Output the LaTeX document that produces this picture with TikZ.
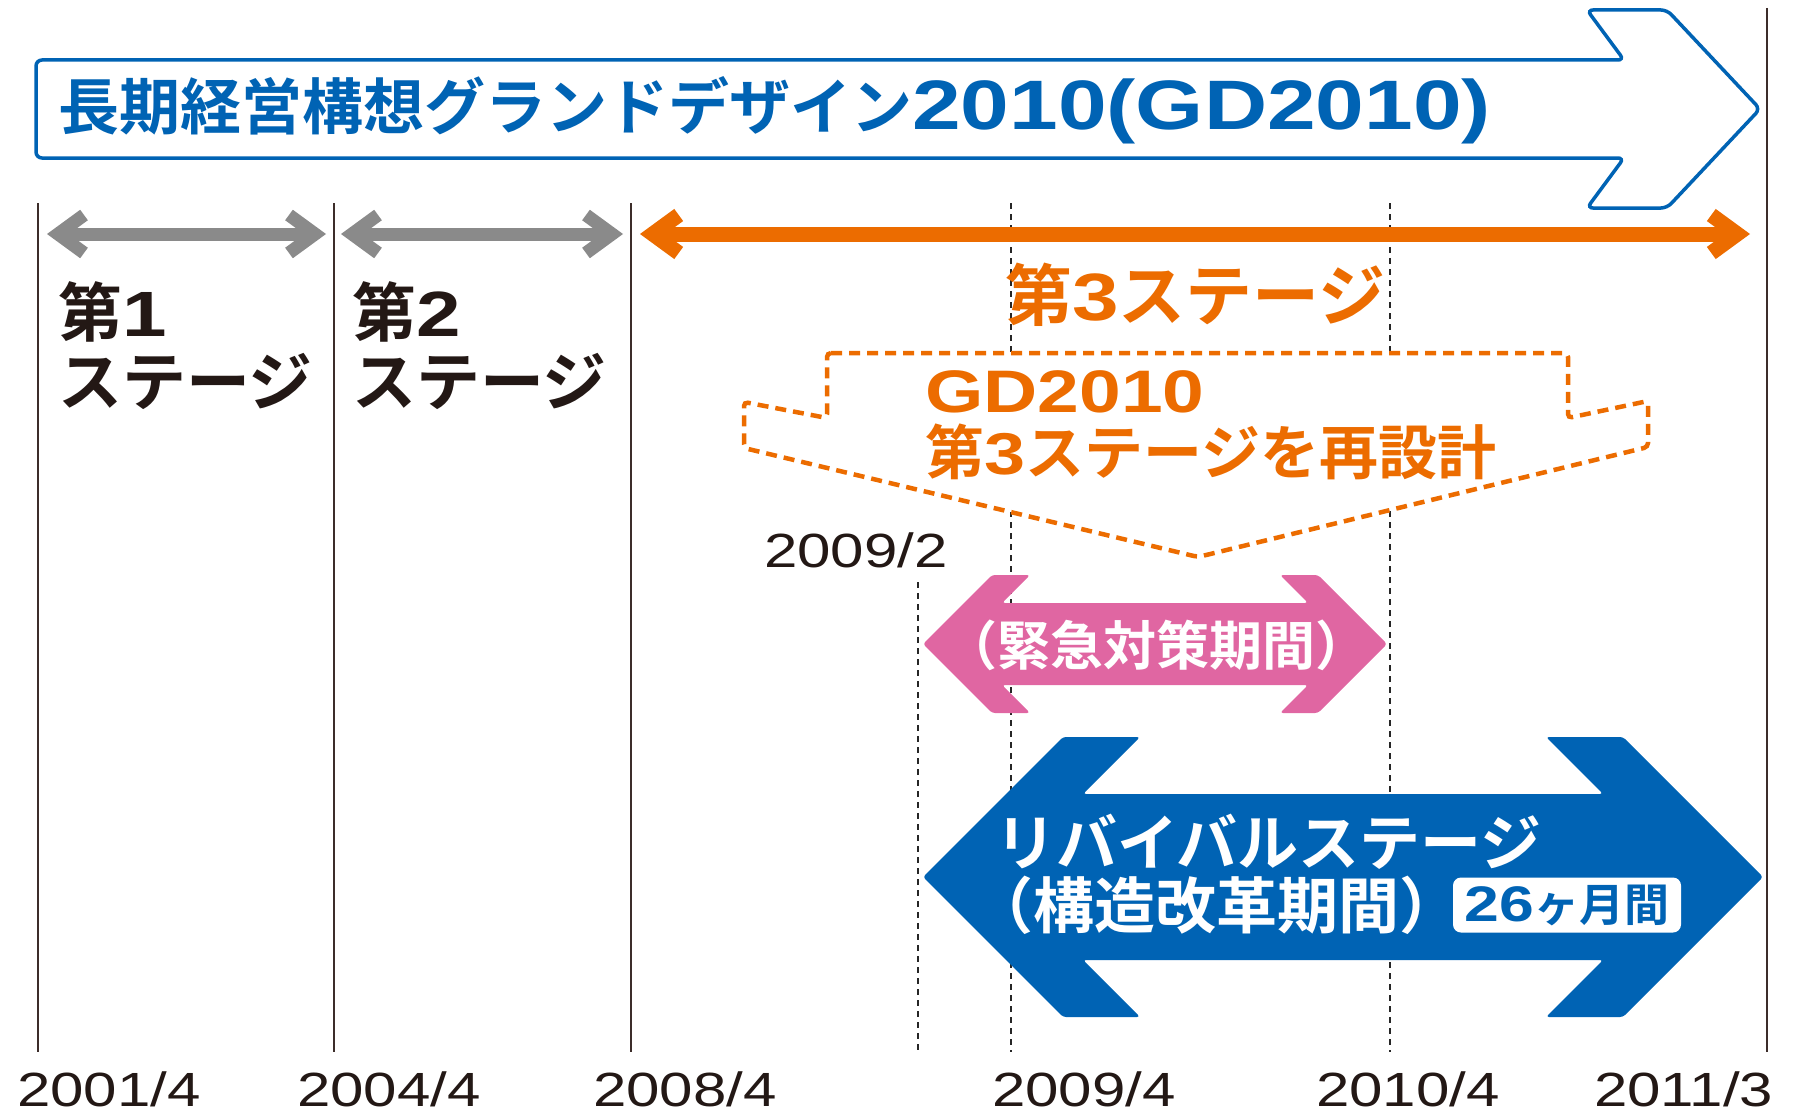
\documentclass[tikz,border=0pt]{standalone}
\usepackage{fontspec}
\setmainfont{Liberation Sans}
\newfontfamily\jpfont{Noto Sans CJK JP}[BoldFont={Noto Sans CJK JP Bold}]
\newfontfamily\numfont{Liberation Sans}[FakeStretch=1.25]
\newcommand\jpb[1]{{\jpfont\bfseries #1}}
\newcommand\numb[1]{{\numfont\bfseries #1}}
\usetikzlibrary{
	positioning,
	arrows.meta,
	calc
}
\definecolor{gdblue}{RGB}{0,99,180}
\definecolor{stageorange}{RGB}{236,108,0}
\definecolor{stagegray}{RGB}{138,138,138}
\definecolor{emgpink}{RGB}{224,102,162}
\definecolor{axisline}{RGB}{60,45,42}
\definecolor{inkblack}{RGB}{35,24,21}

\begin{document}
\begin{tikzpicture}[x=1pt,y=-1pt,
	timeline/.style={draw=axisline,line width=2.4pt},
	guide/.style={draw=black!85,line width=1.6pt,dash pattern=on 6pt off 5pt},
	stagearrow/.style={line width=13pt,{Straight Barb[length=26pt,width=38pt]}-{Straight Barb[length=26pt,width=38pt]}},
	stagelabel/.style={anchor=west,inner sep=0pt,text=inkblack,font=\fontsize{64}{66}\selectfont},
	yearlabel/.style={anchor=west,inner sep=0pt,text=inkblack,font=\numfont\fontsize{48}{50}\selectfont},
	bigarrow/.style={rounded corners=3pt,draw=none}
]
	\useasboundingbox (0,0) rectangle (1805,1116);

	\coordinate (y2001) at (38,203);
	\coordinate (y2004) at (334,203);
	\coordinate (y2008) at (631,203);
	\coordinate (y2011) at (1767,8);
	\coordinate (y2001_ground) at (38,1052);
	\coordinate (y2004_ground) at (334,1052);
	\coordinate (y2008_ground) at (631,1052);
	\coordinate (y2011_ground) at (1767,1052);
	\coordinate (m0902) at (918,582);
	\coordinate (m0904) at (1011,203);
	\coordinate (m1004) at (1390,203);
	\coordinate (m0902_ground) at (918,1052);
	\coordinate (m0904_ground) at (1011,1052);
	\coordinate (m1004_ground) at (1390,1052);

	\draw[timeline] (y2001) -- (y2001_ground);
	\draw[timeline] (y2004) -- (y2004_ground);
	\draw[timeline] (y2008) -- (y2008_ground);
	\draw[timeline] (y2011) -- (y2011_ground);
	\draw[guide] (m0902) -- (m0902_ground);
	\draw[guide] (m0904) -- (m0904_ground);
	\draw[guide] (m1004) -- (m1004_ground);

	\draw[draw=gdblue,fill=white,line width=3.5pt,rounded corners=6pt]
		(36,60) -- (1624,60) -- (1587,10) -- (1667,10) -- (1760,109) -- (1667,208)
		-- (1587,208) -- (1624,158) -- (36,158) -- cycle;
	\node[anchor=west,inner sep=0pt,text=gdblue] (title) at (58,110)
		{\fontsize{61}{64}\selectfont\jpb{長期経営構想グランドデザイン}\fontsize{70}{72}\selectfont\numb{2010(GD2010)}};

	\coordinate (s1_left) at (47,234);
	\coordinate (s1_right) at (326,234);
	\coordinate (s2_left) at (341,234);
	\coordinate (s2_right) at (623,234);
	\coordinate (s3_left) at (640,234);
	\coordinate (s3_right) at (1750,234);
	\draw[stagearrow,stagegray] (s1_left) -- (s1_right);
	\draw[stagearrow,stagegray] (s2_left) -- (s2_right);
	\draw[stagearrow,stageorange,line width=15pt] (s3_left) -- (s3_right);

	\node[stagelabel] (stage1a) at (58,312) {\jpb{第}\numb{1}};
	\node[stagelabel,below=11pt of stage1a.south west,anchor=north west] (stage1b) {\jpb{ステージ}};
	\node[stagelabel] (stage2a) at (352,312) {\jpb{第}\numb{2}};
	\node[stagelabel,below=11pt of stage2a.south west,anchor=north west] (stage2b) {\jpb{ステージ}};
	\node[stagelabel,text=stageorange,font=\fontsize{67}{68}\selectfont] (stage3) at (1005,295) {\jpb{第}\numb{3}\jpb{ステージ}};

	\draw[draw=stageorange,fill=white,line width=4.5pt,dash pattern=on 11pt off 7pt,rounded corners=4pt]
		(827,353) -- (1568,353) -- (1568,418) -- (1648,401) -- (1648,447) -- (1198,557)
		-- (744,448) -- (744,402) -- (827,418) -- cycle;
	\node[anchor=west,inner sep=0pt,text=stageorange,font=\fontsize{60}{62}\selectfont] (gd) at (925,392) {\numb{GD2010}};
	\node[anchor=west,inner sep=0pt,text=stageorange,font=\fontsize{59}{61}\selectfont] (redesign) at (925,452) {\jpb{第}\numb{3}\jpb{ステージを再設計}};

	\node[yearlabel] (feb09) at (764,550) {2009/2};

	\fill[bigarrow,emgpink]
		(923,644) -- (992,575) -- (1030,575) -- (1002,603) -- (1308,603) -- (1280,575) -- (1318,575)
		-- (1387,644) -- (1318,713) -- (1280,713) -- (1308,685) -- (1002,685) -- (1030,713) -- (992,713) -- cycle;
	\node[inner sep=0pt,text=white,font=\fontsize{53}{55}\selectfont] (emg) at (1156,645) {\jpb{（緊急対策期間）}};

	\fill[bigarrow,gdblue]
		(923,877) -- (1063,737) -- (1140,737) -- (1083,794) -- (1603,794) -- (1546,737) -- (1623,737)
		-- (1763,877) -- (1623,1017) -- (1546,1017) -- (1603,960) -- (1083,960) -- (1140,1017) -- (1063,1017) -- cycle;
	\node[anchor=west,inner sep=0pt,text=white,font=\fontsize{61}{63}\selectfont] (rev_a) at (995,842) {\jpb{リバイバルステージ}};
	\node[anchor=west,inner sep=0pt,text=white,font=\fontsize{61}{63}\selectfont] (rev_b) at (972,905) {\jpb{（構造改革期間）}};
	\node[fill=white,rounded corners=8pt,minimum width=228pt,minimum height=55pt,inner sep=0pt,text=gdblue] (months) at (1567,905)
		{\fontsize{50}{52}\selectfont\numb{26}\fontsize{45}{47}\selectfont\jpb{ヶ月間}};

	\node[yearlabel] (l2001) at (17,1089) {2001/4};
	\node[yearlabel] (l2004) at (297,1089) {2004/4};
	\node[yearlabel] (l2008) at (593,1089) {2008/4};
	\node[yearlabel] (l2009) at (992,1089) {2009/4};
	\node[yearlabel] (l2010) at (1316,1089) {2010/4};
	\node[yearlabel] (l2011) at (1594,1089) {2011/3};
\end{tikzpicture}
\end{document}
